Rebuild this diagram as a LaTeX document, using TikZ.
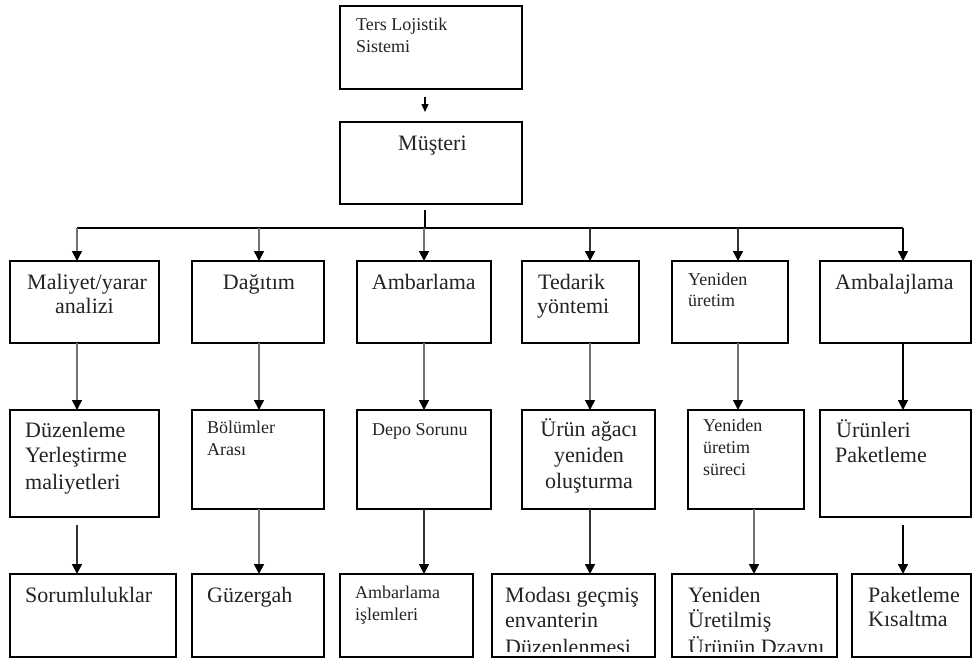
\documentclass[tikz,border=0pt]{standalone}
\usepackage{fontspec}
\setmainfont{Liberation Serif}
\usetikzlibrary{arrows.meta}
\definecolor{txt}{HTML}{222228}
\begin{document}
\begin{tikzpicture}[x=1pt,y=-1pt,
  box/.style={draw=black,line width=1.6pt,rectangle,inner sep=0pt,outer sep=0pt,anchor=north west},
  big/.style={anchor=base west,inner sep=0pt,text=txt,font=\fontsize{22}{25}\selectfont},
  bigc/.style={big,anchor=base},
  small/.style={anchor=base west,inner sep=0pt,text=txt,font=\fontsize{18}{21}\selectfont},
  lnk/.style={line width=1.5pt,draw=black},
  arr/.style={lnk,-{Triangle[length=10pt,width=10pt,color=black]}},
  garr/.style={arr,draw=black!55},
  darr/.style={arr,draw=black!80},
]
\useasboundingbox (0,0) rectangle (980,659);

% ---------- boxes ----------
\node[box,minimum width=182pt,minimum height=83pt] (top) at (340,6) {};
\node[box,minimum width=182pt,minimum height=82pt] (mus) at (340,122) {};

\node[box,minimum width=149pt,minimum height=82pt] (r2c1) at (10,261) {};
\node[box,minimum width=132pt,minimum height=82pt] (r2c2) at (192,261) {};
\node[box,minimum width=134pt,minimum height=82pt] (r2c3) at (357,261) {};
\node[box,minimum width=117pt,minimum height=82pt] (r2c4) at (522,261) {};
\node[box,minimum width=116pt,minimum height=82pt] (r2c5) at (672,261) {};
\node[box,minimum width=151pt,minimum height=82pt] (r2c6) at (820,261) {};

\node[box,minimum width=149pt,minimum height=107pt] (r3c1) at (10,410) {};
\node[box,minimum width=132pt,minimum height=99pt] (r3c2) at (192,410) {};
\node[box,minimum width=134pt,minimum height=99pt] (r3c3) at (357,410) {};
\node[box,minimum width=133pt,minimum height=99pt] (r3c4) at (522,410) {};
\node[box,minimum width=116pt,minimum height=99pt] (r3c5) at (688,410) {};
\node[box,minimum width=151pt,minimum height=107pt] (r3c6) at (820,410) {};

\node[box,minimum width=166pt,minimum height=83pt] (r4c1) at (10,574) {};
\node[box,minimum width=132pt,minimum height=83pt] (r4c2) at (192,574) {};
\node[box,minimum width=133pt,minimum height=83pt] (r4c3) at (340,574) {};
\node[box,minimum width=163pt,minimum height=83pt] (r4c4) at (492,574) {};
\node[box,minimum width=165pt,minimum height=83pt] (r4c5) at (672,574) {};
\node[box,minimum width=119pt,minimum height=83pt] (r4c6) at (852,574) {};

% ---------- texts ----------
\node[small] (t1a) at (356,30.7) {Ters Lojistik};
\node[small] (t1b) at (356,52) {Sistemi};
\node[big] (tmus) at (398,150) {Müşteri};

\node[big] (a1a) at (27,289) {Maliyet/yarar};
\node[big] (a1b) at (55,313) {analizi};
\node[big] (a2a) at (222.7,289) {Dağıtım};
\node[big] (a3a) at (371.7,289) {Ambarlama};
\node[big] (a4a) at (538,289) {Tedarik};
\node[big] (a4b) at (537,313) {yöntemi};
\node[small] (a5a) at (688,285) {Yeniden};
\node[small] (a5b) at (688,306) {üretim};
\node[big] (a6a) at (835,289) {Ambalajlama};

\node[big] (b1a) at (25,437) {Düzenleme};
\node[big] (b1b) at (25,462.7) {Yerleştirme};
\node[big] (b1c) at (25,489) {maliyetleri};
\node[small] (b2a) at (207,433) {Bölümler};
\node[small] (b2b) at (207,455) {Arası};
\node[small] (b3a) at (372,435) {Depo Sorunu};
\node[bigc] (b4a) at (589,436) {Ürün ağacı};
\node[bigc] (b4b) at (589,462) {yeniden};
\node[bigc] (b4c) at (589,488) {oluşturma};
\node[small] (b5a) at (703,431.7) {Yeniden};
\node[small] (b5b) at (703,453) {üretim};
\node[small] (b5c) at (703,475) {süreci};
\node[big] (b6a) at (836,437) {Ürünleri};
\node[big] (b6b) at (835,462.7) {Paketleme};

\node[big] (c1a) at (25,602.7) {Sorumluluklar};
\node[big] (c2a) at (207,602.7) {Güzergah};
\node[small] (c3a) at (355,598) {Ambarlama};
\node[small] (c3b) at (355,620) {işlemleri};
\node[big] (c6a) at (868,602.7) {Paketleme};
\node[big] (c6b) at (868,626.7) {Kısaltma};
\begin{scope}
  \clip (492,574) rectangle (655,651);
  \node[big] (c4a) at (505,602.7) {Modası geçmiş};
  \node[big] (c4b) at (505,627) {envanterin};
  \node[big] (c4c) at (505,654) {Düzenlenmesi};
\end{scope}
\begin{scope}
  \clip (672,574) rectangle (837,651);
  \node[big] (c5a) at (688,602.7) {Yeniden};
  \node[big] (c5b) at (688,627) {Üretilmiş};
  \node[big] (c5c) at (688,654) {Ürünün Dzaynı};
\end{scope}

% ---------- connectors ----------
\draw[arr,-{Triangle[length=8pt,width=7pt,color=black]}]
  ([xshift=-6pt,yshift=-8pt]top.south) -- ([xshift=-6pt,yshift=10pt]mus.north);

\coordinate (bm) at (425,228);
\coordinate (b1) at (77,228);
\coordinate (b2) at (259,228);
\coordinate (b3) at (424,228);
\coordinate (b4) at (590,228);
\coordinate (b5) at (738,228);
\coordinate (b6) at (903,228);
\coordinate (s1) at (77,525);
\coordinate (s6) at (903,525);
\coordinate (x5) at (754,509);

\draw[lnk] ([xshift=-6pt,yshift=-6pt]mus.south) -- (bm);
\draw[lnk] (b1) -- (b6);

\draw[garr] (b1) -- (b1 |- r2c1.north);
\draw[garr] (b2) -- (b2 |- r2c2.north);
\draw[garr] (b3) -- (b3 |- r2c3.north);
\draw[darr] (b4) -- (b4 |- r2c4.north);
\draw[darr] (b5) -- (b5 |- r2c5.north);
\draw[arr]  (b6) -- (b6 |- r2c6.north);

\draw[garr] (r2c1.south -| b1) -- (r3c1.north -| b1);
\draw[garr] (r2c2.south -| b2) -- (r3c2.north -| b2);
\draw[garr] (r2c3.south -| b3) -- (r3c3.north -| b3);
\draw[garr] (r2c4.south -| b4) -- (r3c4.north -| b4);
\draw[garr] (r2c5.south -| b5) -- (r3c5.north -| b5);
\draw[arr]  (r2c6.south -| b6) -- (r3c6.north -| b6);

\draw[darr] (s1) -- (r4c1.north -| s1);
\draw[garr] (r3c2.south -| b2) -- (r4c2.north -| b2);
\draw[darr] (r3c3.south -| b3) -- (r4c3.north -| b3);
\draw[darr] (r3c4.south -| b4) -- (r4c4.north -| b4);
\draw[garr] (r3c5.south -| x5) -- (r4c5.north -| x5);
\draw[arr]  (s6) -- (r4c6.north -| s6);
\end{tikzpicture}
\end{document}
